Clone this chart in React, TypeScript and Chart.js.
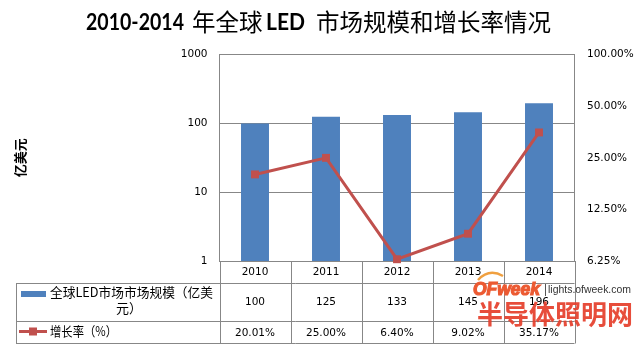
import React, { useEffect, useRef } from "react";
import { Chart, registerables } from "chart.js";

Chart.register(...registerables);

const years = ["2010", "2011", "2012", "2013", "2014"];
const marketSize = [100, 125, 133, 145, 196];
const growthRate = [20.01, 25.0, 6.4, 9.02, 35.17];
const marketSizeLabels = ["100", "125", "133", "145", "196"];
const growthRateLabels = ["20.01%", "25.00%", "6.40%", "9.02%", "35.17%"];
const leftTicks = [1, 10, 100, 1000];
const rightTicks = [6.25, 12.5, 25, 50, 100];
const titleParts = ["2010-2014", "年全球", "LED", "市场规模和增长率情况"];
const yTitle = "亿美元";
const seriesBarName = ["全球LED市场市场规模（亿美", "元）"];
const seriesLineName = "增长率（%）";

const BLUE = "#4F81BD";
const RED = "#C0504D";
const GRID = "#878787";
const NUM_FONT = "10.5px 'DejaVu Sans'";
const CJK = "'Noto Sans CJK SC'";

const overlay = {
  id: "overlay",
  afterDraw(chart: any) {
    const ctx: CanvasRenderingContext2D = chart.ctx;
    const area = chart.chartArea;
    const xs = chart.scales.x;
    const n = years.length;
    const cw = (area.right - area.left) / n;
    const px = (v: number) => Math.round(v) + 0.5;
    ctx.save();

    // Title
    ctx.fillStyle = "#000";
    ctx.textBaseline = "middle";
    ctx.textAlign = "left";
    ctx.font = "bold 23px Lato";
    ctx.fillText(titleParts[0], 86, 23, 98);
    ctx.font = `23.5px ${CJK}`;
    ctx.fillText(titleParts[1], 192, 22, 71);
    ctx.font = "bold 23px Lato";
    ctx.fillText(titleParts[2], 266, 23, 39);
    ctx.font = `23.5px ${CJK}`;
    ctx.fillText(titleParts[3], 316, 22, 241);

    // Y axis title (rotated)
    ctx.save();
    ctx.translate(20, (area.top + area.bottom) / 2);
    ctx.rotate(-Math.PI / 2);
    ctx.textAlign = "center";
    ctx.font = `bold 13px ${CJK}`;
    ctx.fillText(yTitle, 0, 0);
    ctx.restore();

    // Data table
    const r0 = area.bottom;
    const r1 = r0 + 22;
    const r2 = r0 + 60;
    const r3 = r0 + 82;
    const tableLeft = 16;
    ctx.strokeStyle = GRID;
    ctx.lineWidth = 1;
    ctx.beginPath();
    [r1, r2, r3].forEach((y) => {
      ctx.moveTo(tableLeft, px(y));
      ctx.lineTo(area.right, px(y));
    });
    ctx.moveTo(px(tableLeft), r1);
    ctx.lineTo(px(tableLeft), r3);
    for (let i = 0; i <= n; i++) {
      const ex = area.left + i * cw;
      ctx.moveTo(px(ex), r0);
      ctx.lineTo(px(ex), r3 + 0.5);
    }
    ctx.stroke();

    ctx.fillStyle = "#000";
    ctx.textAlign = "center";
    ctx.font = NUM_FONT;
    years.forEach((y, i) => {
      const cx = xs.getPixelForValue(i);
      ctx.fillText(y, cx, r0 + 11);
      ctx.fillText(marketSizeLabels[i], cx, (r1 + r2) / 2);
      ctx.fillText(growthRateLabels[i], cx, (r2 + r3) / 2 + 1);
    });

    // legend cells
    ctx.fillStyle = BLUE;
    ctx.fillRect(21, 291, 25, 6);
    ctx.fillStyle = "#000";
    ctx.font = `13px ${CJK}`;
    ctx.textAlign = "left";
    ctx.fillText(seriesBarName[0], 50, 292, 163);
    ctx.textAlign = "center";
    ctx.fillText(seriesBarName[1], 129, 308);

    ctx.strokeStyle = RED;
    ctx.lineWidth = 3;
    ctx.beginPath();
    ctx.moveTo(19, 331.5);
    ctx.lineTo(47, 331.5);
    ctx.stroke();
    ctx.fillStyle = RED;
    ctx.fillRect(29, 327.5, 8, 8);
    ctx.fillStyle = "#000";
    ctx.textAlign = "left";
    ctx.fillText(seriesLineName, 50, 331.5, 67);

    // Watermark
    ctx.strokeStyle = "#F0A040";
    ctx.lineWidth = 2.5;
    ctx.beginPath();
    ctx.moveTo(478, 280);
    ctx.quadraticCurveTo(489, 268, 503, 276);
    ctx.stroke();
    ctx.fillStyle = "#EC5A32";
    ctx.strokeStyle = "#EC5A32";
    ctx.lineWidth = 1.2;
    ctx.textBaseline = "alphabetic";
    ctx.font = "italic bold 18px 'Liberation Sans'";
    ctx.fillText("OFweek", 473, 295, 67);
    ctx.strokeText("OFweek", 473, 295, 67);
    ctx.fillStyle = "#555";
    ctx.fillRect(545, 284, 1, 12);
    ctx.fillStyle = "#333";
    ctx.font = "11.5px 'Liberation Sans'";
    ctx.textBaseline = "middle";
    ctx.fillText("lights.ofweek.com", 548, 290, 83);
    ctx.fillStyle = "rgba(229,62,42,0.92)";
    ctx.font = `bold 26px ${CJK}`;
    ctx.fillText("半导体照明网", 477, 314, 156);

    ctx.restore();
  },
};

export default function App() {
  const ref = useRef<HTMLCanvasElement | null>(null);

  useEffect(() => {
    document.body.style.margin = "0";
    if (!ref.current) return;
    const chart = new Chart(ref.current, {
      type: "bar",
      data: {
        labels: years,
        datasets: [
          {
            type: "line",
            label: seriesLineName,
            data: growthRate,
            yAxisID: "y1",
            borderColor: RED,
            backgroundColor: RED,
            borderWidth: 3,
            pointStyle: "rect",
            pointRadius: 5.6,
            pointBorderWidth: 0,
            pointBackgroundColor: RED,
            tension: 0,
            clip: false,
            order: 0,
          } as any,
          {
            type: "bar",
            label: seriesBarName.join(""),
            data: marketSize,
            yAxisID: "y",
            backgroundColor: BLUE,
            categoryPercentage: 1,
            barPercentage: 0.394,
            order: 1,
          } as any,
        ],
      },
      options: {
        responsive: false,
        animation: false,
        devicePixelRatio: 1,
        layout: { padding: { top: 54.7, bottom: 89, left: 0, right: 0 } },
        plugins: { legend: { display: false }, tooltip: { enabled: false }, title: { display: false } },
        scales: {
          x: { type: "category", display: false, offset: true },
          y: {
            type: "logarithmic",
            position: "left",
            min: 1,
            max: 1000,
            afterBuildTicks: (s: any) => {
              s.ticks = leftTicks.map((v) => ({ value: v }));
            },
            afterFit: (s: any) => {
              s.width = 219.5;
            },
            grid: { color: GRID, drawTicks: false, lineWidth: 1 },
            border: { display: true, color: GRID },
            ticks: {
              padding: 12,
              color: "#000",
              font: { family: "DejaVu Sans", size: 10.5 },
              autoSkip: false,
              callback: (v: any) => String(v),
            },
          },
          y1: {
            type: "logarithmic",
            position: "right",
            min: 6.25,
            max: 100,
            afterBuildTicks: (s: any) => {
              s.ticks = rightTicks.map((v) => ({ value: v }));
            },
            afterFit: (s: any) => {
              s.width = 67.5;
            },
            grid: { drawOnChartArea: false, drawTicks: false },
            border: { display: true, color: GRID },
            ticks: {
              padding: 12.5,
              color: "#000",
              font: { family: "DejaVu Sans", size: 10.5 },
              autoSkip: false,
              callback: (v: any) => Number(v).toFixed(2) + "%",
            },
          },
        },
      } as any,
      plugins: [overlay],
    });
    return () => chart.destroy();
  }, []);

  return (
    <div style={{ position: "absolute", left: 0, top: 0, width: 642, height: 350, background: "#fff" }}>
      <canvas ref={ref} width={642} height={350} />
    </div>
  );
}
